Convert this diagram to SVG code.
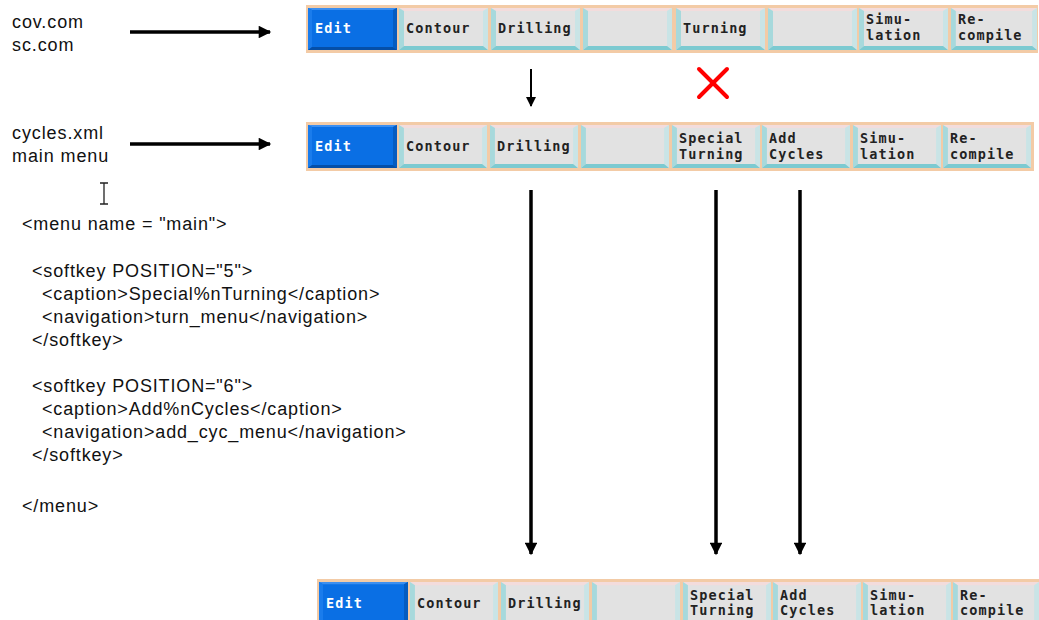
<svg xmlns="http://www.w3.org/2000/svg" xmlns:xlink="http://www.w3.org/1999/xlink" width="1039" height="620" viewBox="0 0 1039 620">
<style>
.lbl{font-family:"Liberation Sans",Arial,sans-serif;font-size:18px;fill:#111;letter-spacing:0.9px}
.code{font-family:"Liberation Sans",Arial,sans-serif;font-size:18px;fill:#111;letter-spacing:0.85px}
.bt{font-family:"DejaVu Sans Mono",monospace;font-weight:bold;font-size:13.5px;letter-spacing:1.1px;fill:#222}
.bts{font-family:"DejaVu Sans Mono",monospace;font-weight:bold;font-size:13.5px;letter-spacing:1.1px;fill:#fff}
.bar{fill:#f3cba6}
.arr{stroke:#000;stroke-width:3.5;fill:none}
.arrt{stroke:#000;stroke-width:2;fill:none}
</style>
<defs>
<symbol id="btn" viewBox="0 0 89 42" preserveAspectRatio="none">
<rect x="0" y="0" width="89" height="42" fill="#e2e2e2"/>
<polygon points="0,0 89,0 84,3 5,3" fill="#f3dcdc"/>
<polygon points="0,0 5,3 5,38 0,42" fill="#a7d9dc"/>
<polygon points="89,0 84,3 84,38 89,42" fill="#c9e4e6"/>
<polygon points="0,42 5,38 84,38 89,42" fill="#7ccad1"/>
</symbol>
<symbol id="btnS" viewBox="0 0 89 42" preserveAspectRatio="none">
<rect x="0" y="0" width="89" height="42" fill="#0a6fe4"/>
<polygon points="0,0 89,0 85,2 4,2" fill="#3d8ff0"/>
<polygon points="0,0 4,2 4,39 0,42" fill="#1a7cec"/>
<polygon points="89,0 85,2 85,39 89,42" fill="#075cc0"/>
<polygon points="0,42 4,39 85,39 89,42" fill="#054fa8"/>
</symbol>
<marker id="ah" viewBox="0 0 10 10" refX="9" refY="5" markerWidth="4" markerHeight="3.6" orient="auto" markerUnits="strokeWidth">
<path d="M0,0 L10,5 L0,10 z" fill="#000"/>
</marker>
<marker id="ahs" viewBox="0 0 10 10" refX="9" refY="5" markerWidth="5" markerHeight="5" orient="auto" markerUnits="strokeWidth">
<path d="M0,0 L10,5 L0,10 z" fill="#000"/>
</marker>
</defs>

<g id="labels">
<text class="lbl" x="12" y="28">cov.com</text>
<text class="lbl" x="12" y="51">sc.com</text>
<text class="lbl" x="12" y="139">cycles.xml</text>
<text class="lbl" x="12" y="162">main menu</text>
<g id="cursor" stroke="#222" stroke-width="1.3" fill="none">
<path d="M100,183 H108 M104,183 V204 M100,204 H108"/>
</g>
</g>

<g id="xml-code">
<text class="code" x="22" y="230">&lt;menu name = "main"&gt;</text>
<text class="code" x="32" y="277">&lt;softkey POSITION="5"&gt;</text>
<text class="code" x="42" y="300">&lt;caption&gt;Special%nTurning&lt;/caption&gt;</text>
<text class="code" x="42" y="323">&lt;navigation&gt;turn_menu&lt;/navigation&gt;</text>
<text class="code" x="32" y="346">&lt;/softkey&gt;</text>
<text class="code" x="32" y="392">&lt;softkey POSITION="6"&gt;</text>
<text class="code" x="42" y="415">&lt;caption&gt;Add%nCycles&lt;/caption&gt;</text>
<text class="code" x="42" y="438">&lt;navigation&gt;add_cyc_menu&lt;/navigation&gt;</text>
<text class="code" x="32" y="461">&lt;/softkey&gt;</text>
<text class="code" x="22" y="512">&lt;/menu&gt;</text>
</g>

<g id="bar-top">
<rect class="bar" x="306" y="5" width="732" height="48"/>
<use href="#btnS" x="308" y="8" width="89" height="42"/>
<use href="#btn" x="399" y="8" width="89" height="42"/>
<use href="#btn" x="491" y="8" width="89" height="42"/>
<use href="#btn" x="583" y="8" width="89" height="42"/>
<use href="#btn" x="676" y="8" width="89" height="42"/>
<use href="#btn" x="768" y="8" width="89" height="42"/>
<use href="#btn" x="859" y="8" width="89" height="42"/>
<use href="#btn" x="951" y="8" width="86" height="42"/>
<text class="bts" x="315" y="33">Edit</text>
<text class="bt" x="406" y="33">Contour</text>
<text class="bt" x="498" y="33">Drilling</text>
<text class="bt" x="683" y="33">Turning</text>
<text class="bt" x="866" y="24">Simu-</text>
<text class="bt" x="866" y="40">lation</text>
<text class="bt" x="958" y="24">Re-</text>
<text class="bt" x="958" y="40">compile</text>
</g>

<g id="bar-main">
<rect class="bar" x="306" y="122" width="728" height="49"/>
<use href="#btnS" x="308" y="125" width="89" height="43"/>
<use href="#btn" x="399" y="125" width="88" height="43"/>
<use href="#btn" x="490" y="125" width="88" height="43"/>
<use href="#btn" x="581" y="125" width="88" height="43"/>
<use href="#btn" x="672" y="125" width="88" height="43"/>
<use href="#btn" x="762" y="125" width="88" height="43"/>
<use href="#btn" x="853" y="125" width="88" height="43"/>
<use href="#btn" x="943" y="125" width="88" height="43"/>
<text class="bts" x="315" y="151">Edit</text>
<text class="bt" x="406" y="151">Contour</text>
<text class="bt" x="497" y="151">Drilling</text>
<text class="bt" x="679" y="143">Special</text>
<text class="bt" x="679" y="159">Turning</text>
<text class="bt" x="769" y="143">Add</text>
<text class="bt" x="769" y="159">Cycles</text>
<text class="bt" x="860" y="143">Simu-</text>
<text class="bt" x="860" y="159">lation</text>
<text class="bt" x="950" y="143">Re-</text>
<text class="bt" x="950" y="159">compile</text>
</g>

<g id="bar-result">
<rect class="bar" x="317" y="579" width="722" height="41"/>
<use href="#btnS" x="319" y="582" width="89" height="45"/>
<use href="#btn" x="410" y="582" width="88" height="45"/>
<use href="#btn" x="501" y="582" width="88" height="45"/>
<use href="#btn" x="592" y="582" width="88" height="45"/>
<use href="#btn" x="683" y="582" width="88" height="45"/>
<use href="#btn" x="773" y="582" width="88" height="45"/>
<use href="#btn" x="863" y="582" width="88" height="45"/>
<use href="#btn" x="953" y="582" width="86" height="45"/>
<text class="bts" x="326" y="608">Edit</text>
<text class="bt" x="417" y="608">Contour</text>
<text class="bt" x="508" y="608">Drilling</text>
<text class="bt" x="690" y="600">Special</text>
<text class="bt" x="690" y="615">Turning</text>
<text class="bt" x="780" y="600">Add</text>
<text class="bt" x="780" y="615">Cycles</text>
<text class="bt" x="870" y="600">Simu-</text>
<text class="bt" x="870" y="615">lation</text>
<text class="bt" x="960" y="600">Re-</text>
<text class="bt" x="960" y="615">compile</text>
</g>

<g id="connectors">
<line class="arr" x1="130" y1="32" x2="270" y2="32" marker-end="url(#ah)"/>
<line class="arr" x1="130" y1="144" x2="270" y2="144" marker-end="url(#ah)"/>
<line class="arrt" x1="531" y1="69" x2="531" y2="106" marker-end="url(#ahs)"/>
<line class="arr" x1="531" y1="190" x2="531" y2="554" marker-end="url(#ah)"/>
<line class="arr" x1="716" y1="190" x2="716" y2="554" marker-end="url(#ah)"/>
<line class="arr" x1="800" y1="190" x2="800" y2="554" marker-end="url(#ah)"/>
<g id="cross" stroke="#f00" stroke-width="4" stroke-linecap="round">
<line x1="699" y1="69" x2="727" y2="97"/>
<line x1="727" y1="69" x2="699" y2="97"/>
</g>
</g>
</svg>
